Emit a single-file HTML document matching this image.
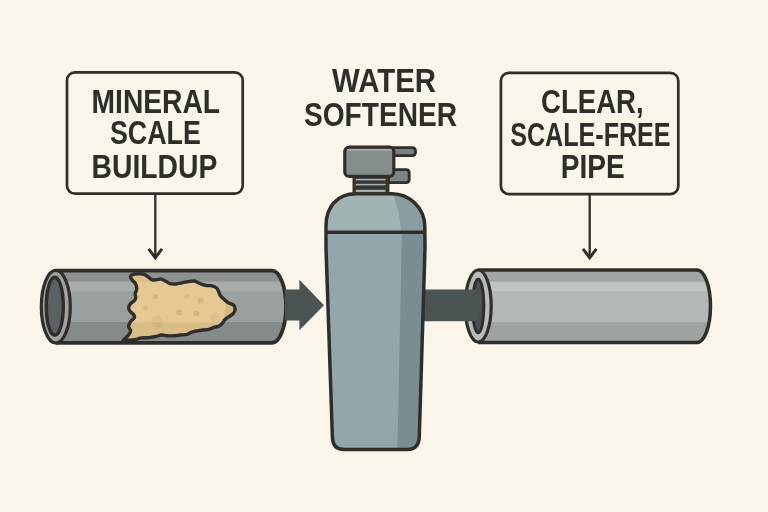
<!DOCTYPE html>
<html><head><meta charset="utf-8">
<style>
html,body{margin:0;padding:0;background:#f9f5eb;}
body{width:768px;height:512px;overflow:hidden;}
svg{display:block;will-change:transform;}
text{font-family:"Liberation Sans",sans-serif;font-weight:bold;fill:#2e2d2a;}
</style></head><body>
<svg width="768" height="512" viewBox="0 0 768 512">
<rect width="768" height="512" fill="#f9f5eb"/>

<!-- left label box -->
<rect x="67" y="72.3" width="175.7" height="121.4" rx="8" fill="#f9f5eb" stroke="#302e2a" stroke-width="2.7"/>
<text x="155.85" y="112.8" font-size="33" text-anchor="middle" textLength="128.5" lengthAdjust="spacingAndGlyphs">MINERAL</text>
<text x="155.4" y="143.9" font-size="33" text-anchor="middle" textLength="90.8" lengthAdjust="spacingAndGlyphs">SCALE</text>
<text x="154.45" y="178.3" font-size="33" text-anchor="middle" textLength="125.7" lengthAdjust="spacingAndGlyphs">BUILDUP</text>
<line x1="155.3" y1="194" x2="155.3" y2="258" stroke="#302e2a" stroke-width="2.3"/>
<polyline points="148.6,248.9 155.3,257.8 162,248.9" fill="none" stroke="#302e2a" stroke-width="2.9" stroke-linejoin="miter"/>

<!-- right label box -->
<rect x="500.9" y="72.8" width="177.4" height="121.3" rx="8" fill="#f9f5eb" stroke="#302e2a" stroke-width="2.7"/>
<text x="592.4" y="113.2" font-size="33" text-anchor="middle" textLength="102.6" lengthAdjust="spacingAndGlyphs">CLEAR,</text>
<text x="590.4" y="145.8" font-size="33" text-anchor="middle" textLength="160.4" lengthAdjust="spacingAndGlyphs">SCALE-FREE</text>
<text x="592.8" y="178.2" font-size="33" text-anchor="middle" textLength="64" lengthAdjust="spacingAndGlyphs">PIPE</text>
<line x1="589.7" y1="194" x2="589.7" y2="258" stroke="#302e2a" stroke-width="2.3"/>
<polyline points="583,248.9 589.7,257.8 596.4,248.9" fill="none" stroke="#302e2a" stroke-width="2.9" stroke-linejoin="miter"/>

<!-- heading -->
<text x="384" y="92.3" font-size="33" text-anchor="middle" textLength="104" lengthAdjust="spacingAndGlyphs">WATER</text>
<text x="380.55" y="126.1" font-size="33" text-anchor="middle" textLength="153.1" lengthAdjust="spacingAndGlyphs">SOFTENER</text>

<!-- left pipe -->
<clipPath id="lp"><path d="M56,270.6 L272,270.6 A14,36.1 0 0 1 272,342.8 L56,342.8 Z"/></clipPath>
<g clip-path="url(#lp)">
<rect x="40" y="268" width="250" height="80" fill="#9aa09d"/>
<rect x="40" y="268" width="250" height="13.7" fill="#8c9290"/>
<rect x="40" y="281.7" width="250" height="9.5" fill="#a8adaa"/>
<rect x="40" y="322" width="250" height="22" fill="#858b89"/>
</g>
<clipPath id="bc"><path d="M130.6,276.2 C131.0,275.2 132.7,274.6 134.3,274.2 C135.9,273.8 138.6,273.8 140.3,273.9 C142.0,274.0 143.3,274.1 144.7,274.7 C146.0,275.2 147.2,276.3 148.4,277.2 C149.7,278.1 150.8,279.5 152.2,279.9 C153.6,280.3 155.1,279.7 156.6,279.6 C158.1,279.5 159.6,278.9 161.1,279.1 C162.6,279.4 164.0,280.4 165.5,281.1 C167.0,281.9 168.5,283.1 170.0,283.6 C171.5,284.1 173.1,284.0 174.4,284.0 C175.7,284.0 176.6,283.8 178.0,283.6 C179.4,283.4 181.3,282.9 183.0,282.6 C184.7,282.3 186.4,281.9 188.3,281.6 C190.2,281.3 192.3,280.7 194.3,281.0 C196.3,281.3 198.2,282.9 200.2,283.6 C202.2,284.4 204.1,285.1 206.1,285.5 C208.1,285.9 210.4,285.4 212.1,285.8 C213.8,286.2 215.4,287.0 216.5,288.0 C217.6,289.0 218.1,290.5 218.7,291.7 C219.3,292.9 219.3,294.2 220.2,295.4 C221.1,296.6 222.5,297.9 223.9,299.1 C225.3,300.4 226.8,301.9 228.4,302.9 C230.0,303.9 232.5,304.0 233.6,305.1 C234.7,306.2 235.2,308.0 235.1,309.5 C235.0,311.0 233.9,312.8 232.8,314.0 C231.7,315.2 229.8,316.0 228.4,317.0 C227.0,318.0 225.5,318.9 224.5,320.0 C223.5,321.1 223.2,322.5 222.2,323.5 C221.2,324.5 219.8,325.6 218.5,326.2 C217.2,326.8 216.2,326.7 214.6,327.2 C213.0,327.7 210.7,328.8 208.8,329.3 C206.9,329.8 205.0,329.8 203.1,330.0 C201.2,330.2 199.3,330.4 197.4,330.8 C195.5,331.2 193.3,331.6 191.6,332.2 C189.9,332.8 189.2,333.8 187.3,334.3 C185.4,334.8 182.3,334.8 180.2,335.0 C178.0,335.2 176.6,335.7 174.4,335.8 C172.2,335.9 169.5,335.9 167.3,335.8 C165.2,335.7 163.4,334.9 161.5,335.0 C159.6,335.1 157.9,336.1 155.8,336.5 C153.7,336.9 151.1,337.4 148.7,337.6 C146.3,337.8 143.7,337.6 141.5,337.9 C139.3,338.2 138.0,339.0 135.8,339.4 C133.7,339.8 130.8,339.8 128.6,340.1 C126.4,340.5 122.5,342.4 122.5,341.5 C122.5,340.6 127.2,336.8 128.6,335.0 C130.0,333.2 130.7,332.2 130.7,330.8 C130.7,329.4 128.6,328.1 128.6,326.5 C128.6,324.9 129.8,322.8 130.7,321.4 C131.6,320.0 133.8,319.0 134.3,317.9 C134.8,316.8 134.3,315.6 133.6,314.5 C132.9,313.4 130.7,312.3 129.9,311.1 C129.1,309.9 128.6,308.6 128.7,307.4 C128.8,306.1 129.7,304.7 130.6,303.6 C131.5,302.5 133.4,301.7 134.3,300.7 C135.2,299.7 135.7,298.8 135.8,297.7 C135.9,296.6 135.0,295.4 135.1,294.0 C135.2,292.6 136.5,291.1 136.6,289.5 C136.7,287.9 136.6,285.9 135.8,284.3 C135.1,282.7 133.0,281.2 132.1,279.9 C131.2,278.5 130.2,277.1 130.6,276.2Z"/></clipPath>
<g clip-path="url(#lp)">
<path d="M130.6,276.2 C131.0,275.2 132.7,274.6 134.3,274.2 C135.9,273.8 138.6,273.8 140.3,273.9 C142.0,274.0 143.3,274.1 144.7,274.7 C146.0,275.2 147.2,276.3 148.4,277.2 C149.7,278.1 150.8,279.5 152.2,279.9 C153.6,280.3 155.1,279.7 156.6,279.6 C158.1,279.5 159.6,278.9 161.1,279.1 C162.6,279.4 164.0,280.4 165.5,281.1 C167.0,281.9 168.5,283.1 170.0,283.6 C171.5,284.1 173.1,284.0 174.4,284.0 C175.7,284.0 176.6,283.8 178.0,283.6 C179.4,283.4 181.3,282.9 183.0,282.6 C184.7,282.3 186.4,281.9 188.3,281.6 C190.2,281.3 192.3,280.7 194.3,281.0 C196.3,281.3 198.2,282.9 200.2,283.6 C202.2,284.4 204.1,285.1 206.1,285.5 C208.1,285.9 210.4,285.4 212.1,285.8 C213.8,286.2 215.4,287.0 216.5,288.0 C217.6,289.0 218.1,290.5 218.7,291.7 C219.3,292.9 219.3,294.2 220.2,295.4 C221.1,296.6 222.5,297.9 223.9,299.1 C225.3,300.4 226.8,301.9 228.4,302.9 C230.0,303.9 232.5,304.0 233.6,305.1 C234.7,306.2 235.2,308.0 235.1,309.5 C235.0,311.0 233.9,312.8 232.8,314.0 C231.7,315.2 229.8,316.0 228.4,317.0 C227.0,318.0 225.5,318.9 224.5,320.0 C223.5,321.1 223.2,322.5 222.2,323.5 C221.2,324.5 219.8,325.6 218.5,326.2 C217.2,326.8 216.2,326.7 214.6,327.2 C213.0,327.7 210.7,328.8 208.8,329.3 C206.9,329.8 205.0,329.8 203.1,330.0 C201.2,330.2 199.3,330.4 197.4,330.8 C195.5,331.2 193.3,331.6 191.6,332.2 C189.9,332.8 189.2,333.8 187.3,334.3 C185.4,334.8 182.3,334.8 180.2,335.0 C178.0,335.2 176.6,335.7 174.4,335.8 C172.2,335.9 169.5,335.9 167.3,335.8 C165.2,335.7 163.4,334.9 161.5,335.0 C159.6,335.1 157.9,336.1 155.8,336.5 C153.7,336.9 151.1,337.4 148.7,337.6 C146.3,337.8 143.7,337.6 141.5,337.9 C139.3,338.2 138.0,339.0 135.8,339.4 C133.7,339.8 130.8,339.8 128.6,340.1 C126.4,340.5 122.5,342.4 122.5,341.5 C122.5,340.6 127.2,336.8 128.6,335.0 C130.0,333.2 130.7,332.2 130.7,330.8 C130.7,329.4 128.6,328.1 128.6,326.5 C128.6,324.9 129.8,322.8 130.7,321.4 C131.6,320.0 133.8,319.0 134.3,317.9 C134.8,316.8 134.3,315.6 133.6,314.5 C132.9,313.4 130.7,312.3 129.9,311.1 C129.1,309.9 128.6,308.6 128.7,307.4 C128.8,306.1 129.7,304.7 130.6,303.6 C131.5,302.5 133.4,301.7 134.3,300.7 C135.2,299.7 135.7,298.8 135.8,297.7 C135.9,296.6 135.0,295.4 135.1,294.0 C135.2,292.6 136.5,291.1 136.6,289.5 C136.7,287.9 136.6,285.9 135.8,284.3 C135.1,282.7 133.0,281.2 132.1,279.9 C131.2,278.5 130.2,277.1 130.6,276.2Z" fill="#e6c893"/>
<g clip-path="url(#bc)">
<rect x="120" y="268" width="120" height="14" fill="#7a5a20" opacity="0.07"/>
<rect x="120" y="322.5" width="120" height="22" fill="#7a5a20" opacity="0.10"/>
<path d="M226,303 L240,306 L238,316 L224,318 Z" fill="#8a6a3a" opacity="0.18"/>
<filter id="bl" x="-50%" y="-50%" width="200%" height="200%"><feGaussianBlur stdDeviation="0.7"/></filter>
<g filter="url(#bl)" fill="#a88148">
<circle cx="155.6" cy="296.5" r="2.6" opacity="0.28"/>
<circle cx="145.5" cy="308.2" r="2.3" opacity="0.22"/>
<circle cx="179.3" cy="312.4" r="3" opacity="0.28"/>
<circle cx="196.2" cy="313.2" r="3" opacity="0.25"/>
<circle cx="200.5" cy="300.5" r="3" opacity="0.25"/>
<circle cx="187" cy="296.3" r="2.5" opacity="0.15"/>
<circle cx="157.3" cy="321.7" r="6" opacity="0.13"/>
<circle cx="214.9" cy="317.5" r="5" opacity="0.13"/>
</g>
</g>
<path d="M130.6,276.2 C131.0,275.2 132.7,274.6 134.3,274.2 C135.9,273.8 138.6,273.8 140.3,273.9 C142.0,274.0 143.3,274.1 144.7,274.7 C146.0,275.2 147.2,276.3 148.4,277.2 C149.7,278.1 150.8,279.5 152.2,279.9 C153.6,280.3 155.1,279.7 156.6,279.6 C158.1,279.5 159.6,278.9 161.1,279.1 C162.6,279.4 164.0,280.4 165.5,281.1 C167.0,281.9 168.5,283.1 170.0,283.6 C171.5,284.1 173.1,284.0 174.4,284.0 C175.7,284.0 176.6,283.8 178.0,283.6 C179.4,283.4 181.3,282.9 183.0,282.6 C184.7,282.3 186.4,281.9 188.3,281.6 C190.2,281.3 192.3,280.7 194.3,281.0 C196.3,281.3 198.2,282.9 200.2,283.6 C202.2,284.4 204.1,285.1 206.1,285.5 C208.1,285.9 210.4,285.4 212.1,285.8 C213.8,286.2 215.4,287.0 216.5,288.0 C217.6,289.0 218.1,290.5 218.7,291.7 C219.3,292.9 219.3,294.2 220.2,295.4 C221.1,296.6 222.5,297.9 223.9,299.1 C225.3,300.4 226.8,301.9 228.4,302.9 C230.0,303.9 232.5,304.0 233.6,305.1 C234.7,306.2 235.2,308.0 235.1,309.5 C235.0,311.0 233.9,312.8 232.8,314.0 C231.7,315.2 229.8,316.0 228.4,317.0 C227.0,318.0 225.5,318.9 224.5,320.0 C223.5,321.1 223.2,322.5 222.2,323.5 C221.2,324.5 219.8,325.6 218.5,326.2 C217.2,326.8 216.2,326.7 214.6,327.2 C213.0,327.7 210.7,328.8 208.8,329.3 C206.9,329.8 205.0,329.8 203.1,330.0 C201.2,330.2 199.3,330.4 197.4,330.8 C195.5,331.2 193.3,331.6 191.6,332.2 C189.9,332.8 189.2,333.8 187.3,334.3 C185.4,334.8 182.3,334.8 180.2,335.0 C178.0,335.2 176.6,335.7 174.4,335.8 C172.2,335.9 169.5,335.9 167.3,335.8 C165.2,335.7 163.4,334.9 161.5,335.0 C159.6,335.1 157.9,336.1 155.8,336.5 C153.7,336.9 151.1,337.4 148.7,337.6 C146.3,337.8 143.7,337.6 141.5,337.9 C139.3,338.2 138.0,339.0 135.8,339.4 C133.7,339.8 130.8,339.8 128.6,340.1 C126.4,340.5 122.5,342.4 122.5,341.5 C122.5,340.6 127.2,336.8 128.6,335.0 C130.0,333.2 130.7,332.2 130.7,330.8 C130.7,329.4 128.6,328.1 128.6,326.5 C128.6,324.9 129.8,322.8 130.7,321.4 C131.6,320.0 133.8,319.0 134.3,317.9 C134.8,316.8 134.3,315.6 133.6,314.5 C132.9,313.4 130.7,312.3 129.9,311.1 C129.1,309.9 128.6,308.6 128.7,307.4 C128.8,306.1 129.7,304.7 130.6,303.6 C131.5,302.5 133.4,301.7 134.3,300.7 C135.2,299.7 135.7,298.8 135.8,297.7 C135.9,296.6 135.0,295.4 135.1,294.0 C135.2,292.6 136.5,291.1 136.6,289.5 C136.7,287.9 136.6,285.9 135.8,284.3 C135.1,282.7 133.0,281.2 132.1,279.9 C131.2,278.5 130.2,277.1 130.6,276.2Z" fill="none" stroke="#302e2a" stroke-width="3.4" stroke-linejoin="round"/>
</g>
<path d="M56,270.6 L272,270.6 A14,36.1 0 0 1 272,342.8 L56,342.8" fill="none" stroke="#302e2a" stroke-width="3.8"/>
<ellipse cx="55.8" cy="306.7" rx="14.5" ry="36.3" fill="#9ea3a0" stroke="#302e2a" stroke-width="3.2"/>
<ellipse cx="54.8" cy="306.2" rx="8.5" ry="29" fill="#5a6264" stroke="#302e2a" stroke-width="3.4"/>
<!-- arrow -->
<path d="M285,289.5 L299.4,289.5 L299.4,279.7 L324,305.3 L299.4,330.3 L299.4,320.6 L285,320.6 Z" fill="#4b5252"/>

<!-- right pipe -->
<clipPath id="rp"><path d="M478.2,270 L697,270 A13.5,36.2 0 0 1 697,342.4 L478.2,342.4 Z"/></clipPath>
<g clip-path="url(#rp)">
<rect x="460" y="266" width="260" height="80" fill="#b1b8b6"/>
<rect x="460" y="266" width="260" height="15.8" fill="#a0a6a4"/>
<rect x="460" y="281.8" width="260" height="9.4" fill="#bfc5c3"/>
<rect x="460" y="322.2" width="260" height="24" fill="#9ea4a2"/>
</g>
<path d="M478.2,270 L697,270 A13.5,36.2 0 0 1 697,342.4 L478.2,342.4" fill="none" stroke="#302e2a" stroke-width="3.5"/>
<ellipse cx="478.2" cy="306" rx="13" ry="36" fill="#b6bcb9" stroke="#302e2a" stroke-width="3.2"/>
<ellipse cx="478.2" cy="306" rx="5.6" ry="26.8" fill="#4a5152" stroke="#302e2a" stroke-width="3"/>
<!-- connector pipe -->
<path d="M424,289.5 L476,289.5 Q479,292 479,300 L479,312 Q479,319 476,321.3 L424,321.3 Z" fill="#4c5353"/>

<!-- tank -->
<clipPath id="tk"><path d="M326,248 L326,226 C326,207 337,193.7 356,193.7 L391.8,193.7 A33,33 0 0 1 424.8,226.5 L425,248 L419.3,436 Q419.1,449.5 407.5,449.5 L344,449.5 Q332.6,449.5 332.4,437 Z"/></clipPath>
<g clip-path="url(#tk)">
<rect x="320" y="188" width="110" height="270" fill="#92a6ab"/>
<rect x="320" y="188" width="110" height="44" fill="#a0b4b4"/>
<path d="M392,193 C397,203 400,215 401,232 L430,232 L430,188 Z" fill="#889ea1"/>
<path d="M402,232 L397.3,452 L430,452 L430,232 Z" fill="#798d93"/>
</g>
<path d="M326,248 L326,226 C326,207 337,193.7 356,193.7 L391.8,193.7 A33,33 0 0 1 424.8,226.5 L425,248 L419.3,436 Q419.1,449.5 407.5,449.5 L344,449.5 Q332.6,449.5 332.4,437 Z" fill="none" stroke="#302e2a" stroke-width="3.5"/>
<line x1="326" y1="232.2" x2="425" y2="232.2" stroke="#302e2a" stroke-width="3.6"/>
<!-- neck -->
<rect x="352.5" y="177" width="37" height="16" fill="#363531"/>
<rect x="355.8" y="178.8" width="29.7" height="1.6" fill="#a9b5b5"/>
<rect x="355.8" y="183.8" width="29.7" height="1.6" fill="#a9b5b5"/>
<rect x="355.8" y="189.8" width="29.7" height="2.1" fill="#a9b5b5"/>
<!-- tabs -->
<path d="M392,147.6 L412,147.6 Q415.5,147.6 415.5,151.2 L415.5,152.2 Q415.5,155.6 412,155.6 L392,155.6 Z" fill="#77817f" stroke="#302e2a" stroke-width="2.8"/>
<path d="M388.5,169.6 L406,169.6 Q409.2,169.6 409.2,172.8 L409.2,179.6 Q409.2,182.6 406,182.6 L388.5,182.6 Z" fill="#7b8684" stroke="#302e2a" stroke-width="2.8"/>
<!-- head -->
<rect x="344.8" y="147.1" width="49" height="29.3" rx="4.5" fill="#868e8c" stroke="#302e2a" stroke-width="3.2"/>
<rect x="347" y="149" width="44.5" height="2" fill="#a3a9a7"/>
</svg>
</body></html>
